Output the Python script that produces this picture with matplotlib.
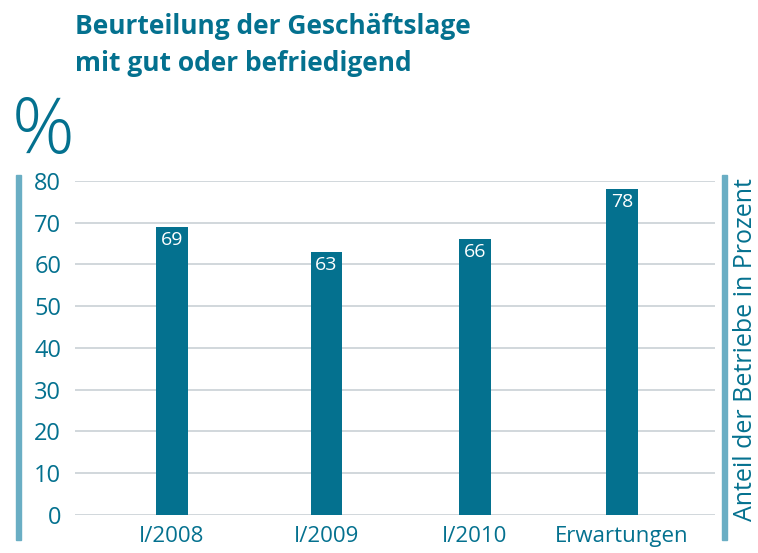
import numpy as np
import matplotlib.pyplot as plt
from matplotlib.patches import Rectangle

categories = ["I/2008", "I/2009", "I/2010", "Erwartungen"]
values = [69, 63, 66, 78]
yticks = [0, 10, 20, 30, 40, 50, 60, 70, 80]

teal = "#04718f"
light = "#6aaec4"

plt.rcParams['font.family'] = ['Open Sans', 'DejaVu Sans']

fig = plt.figure(figsize=(7.58, 5.53), dpi=100)
ax = fig.add_axes([0.099, 0.069, 0.844, 0.604])

# bar positions (slightly uneven spacing as in original)
x = np.array([0, 1.03, 2.02, 3.0])
ax.bar(x, values, width=0.21, color=teal, zorder=3)
for xi, v in zip(x, values):
    ax.text(xi, v - 1.0, str(v), ha="center", va="top", color="white", fontsize=14, zorder=4)

ax.set_xlim(-0.647, 3.62)
ax.set_ylim(0, 80)
ax.set_yticks(yticks)
ax.set_xticks(x)
ax.set_xticklabels(categories)
ax.grid(axis="y", color="#c9d1d5", linewidth=1.2, zorder=0)
ax.tick_params(axis="both", length=0, colors=teal)
ax.tick_params(axis="y", pad=10, labelsize=17)
ax.tick_params(axis="x", pad=8, labelsize=16)
for s in ax.spines.values():
    s.set_visible(False)

# side bars
fig.add_artist(Rectangle((16 / 758, 1 - 540 / 553), 5 / 758, 365 / 553, color=light, transform=fig.transFigure))
fig.add_artist(Rectangle((722 / 758, 1 - 540 / 553), 5 / 758, 365 / 553, color=light, transform=fig.transFigure))

fig.text(746 / 758, 1 - 350 / 553, "Anteil der Betriebe in Prozent", rotation=90,
         ha="center", va="center", color=teal, fontsize=18)
fig.text(12 / 758, 1 - 133 / 553, "%", ha="left", va="center", color=teal, fontsize=56, fontweight="light")
fig.text(75 / 758, 1 - 45 / 553, "Beurteilung der Geschäftslage\nmit gut oder befriedigend",
         ha="left", va="center", color=teal, fontsize=19, fontweight="bold", linespacing=1.45)

fig.savefig("out.png", dpi=100)
